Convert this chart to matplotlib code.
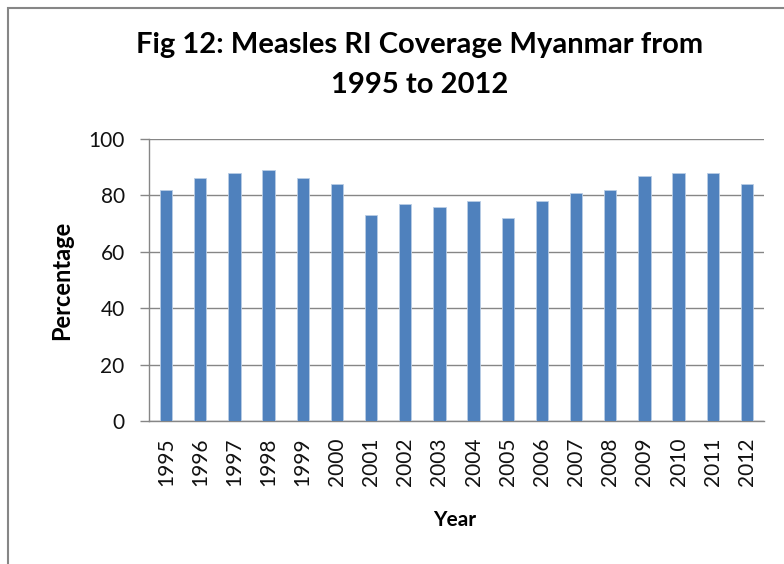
import matplotlib
matplotlib.use("Agg")
import matplotlib.pyplot as plt
from matplotlib.patches import Rectangle

years = ["1995", "1996", "1997", "1998", "1999", "2000", "2001", "2002", "2003",
         "2004", "2005", "2006", "2007", "2008", "2009", "2010", "2011", "2012"]
coverage = [82, 86, 88, 89, 86, 84, 73, 77, 76, 78, 72, 78, 81, 82, 87, 88, 88, 84]
yticks = [0, 20, 40, 60, 80, 100]

plt.rcParams['font.family'] = ['Lato', 'DejaVu Sans']

W, H = 784, 564
fig = plt.figure(figsize=(W / 100, H / 100), dpi=100)
ax = fig.add_axes([149 / W, 1 - 421 / H, (764 - 149) / W, (421 - 139) / H])

x = list(range(len(years)))
ax.bar(x, coverage, width=0.36, color="#4F81BD", edgecolor="#B9CDE5", linewidth=0.6, zorder=3)
ax.set_xlim(-0.5, len(years) - 0.5)
ax.set_ylim(0, 100)
ax.set_yticks(yticks)
ax.set_xticks(x)
ax.set_xticklabels(years, rotation=90, fontsize=15, color="#111111")
ax.tick_params(axis="y", labelsize=15, length=6.5, color="#868686", width=1, pad=11,
               labelcolor="#111111")
ax.tick_params(axis="x", length=0, pad=12)
ax.yaxis.grid(True, color="#868686", linewidth=1, zorder=0)
for s in ["top", "right"]:
    ax.spines[s].set_visible(False)
for s in ["left", "bottom"]:
    ax.spines[s].set_color("#868686")
    ax.spines[s].set_linewidth(1)

fig.text(62 / W, 1 - 280 / H, "Percentage", rotation=90, ha="center", va="center",
         fontsize=17, fontweight="bold")
fig.text(455 / W, 1 - 520 / H, "Year", ha="center", va="center",
         fontsize=15, fontweight="bold")

fig.text(420 / W, 1 - 45 / H, "Fig 12: Measles RI Coverage Myanmar from",
         ha="center", va="center", fontsize=21, fontweight="bold")
fig.text(420 / W, 1 - 85 / H, "1995 to 2012",
         ha="center", va="center", fontsize=21, fontweight="bold")

fig.patches.append(Rectangle((8 / W, -0.1), 1.2, 1 - 8 / H + 0.1, transform=fig.transFigure,
                             fill=False, edgecolor="#868686", linewidth=1.5))

fig.savefig("out.png", dpi=100)
